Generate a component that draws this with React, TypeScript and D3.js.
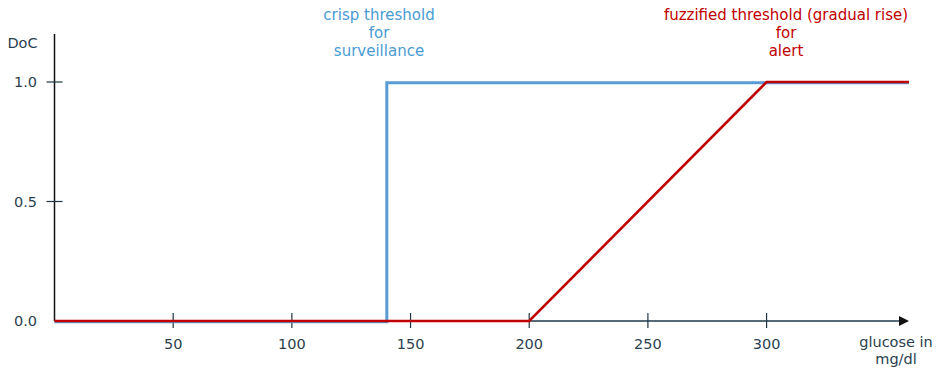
import React from "react";
import * as d3 from "d3";

const xTicks = [50, 100, 150, 200, 250, 300];
const yTicks = [0, 0.5, 1];
const yTickLabels = ["0.0", "0.5", "1.0"];
const crispX = [0, 140, 140, 360];
const crispY = [0, 0, 1, 1];
const fuzzyX = [0, 200, 300, 360];
const fuzzyY = [0, 0, 1, 1];
const crispLabel = ["crisp threshold", "for", "surveillance"];
const fuzzyLabel = ["fuzzified threshold (gradual rise)", "for", "alert"];
const xAxisLabel = ["glucose in", "mg/dl"];

const W = 941;
const H = 368;
const FONT = "'DejaVu Sans', Verdana, sans-serif";
const TEXT = "#2b3f4f";

export default function App() {
  const x = d3.scaleLinear().domain([0, 360]).range([54.5, 909]);
  const y = d3.scaleLinear().domain([0, 1]).range([321, 82]);
  const line = d3
    .line<[number, number]>()
    .x((d) => x(d[0]))
    .y((d) => y(d[1]));
  const crisp: [number, number][] = crispX.map((v, i) => [v, crispY[i]]);
  const fuzzy: [number, number][] = fuzzyX.map((v, i) => [v, fuzzyY[i]]);
  const x0 = x(0);
  const y0 = y(0);

  return (
    <svg
      width={W}
      height={H}
      style={{ position: "absolute", left: 0, top: 0, background: "#fff" }}
      fontFamily={FONT}
      fontSize={14.5}
    >
      {/* y axis */}
      <line x1={x0} x2={x0} y1={34} y2={y0} stroke="#111" strokeWidth={1.5} />
      {yTicks.map((t, i) => (
        <g key={t}>
          {t > 0 && (
            <line x1={x0 - 8} x2={x0 + 8} y1={y(t)} y2={y(t)} stroke="#1e3442" strokeWidth={1.2} />
          )}
          <text x={37} y={y(t)} dy="0.35em" textAnchor="end" fill={TEXT}>
            {yTickLabels[i]}
          </text>
        </g>
      ))}
      <text x={22.5} y={43} dy="0.35em" textAnchor="middle" fill={TEXT}>
        DoC
      </text>

      {/* x axis */}
      <line x1={x0} x2={x(360) - 8} y1={y0} y2={y0} stroke="#1e3a48" strokeWidth={1.5} />
      <path
        d={`M${x(360)},${y0} L${x(360) - 10},${y0 - 5} L${x(360) - 10},${y0 + 5} Z`}
        fill="#111"
      />
      {xTicks.map((t) => (
        <g key={t}>
          <line x1={x(t)} x2={x(t)} y1={y0 - 8} y2={y0 + 7} stroke="#1e3442" strokeWidth={1.2} />
          <text x={x(t)} y={344} dy="0.35em" textAnchor="middle" fill={TEXT}>
            {t}
          </text>
        </g>
      ))}
      {xAxisLabel.map((s, i) => (
        <text key={s} x={896} y={342 + i * 17} dy="0.35em" textAnchor="middle" fill={TEXT}>
          {s}
        </text>
      ))}

      {/* series */}
      <path d={line(crisp) || ""} fill="none" stroke="#5b9bd5" strokeWidth={3} transform="translate(0,0.8)" />
      <path d={line(fuzzy) || ""} fill="none" stroke="#c00000" strokeWidth={2.6} strokeLinejoin="miter" />

      {/* annotations */}
      {crispLabel.map((s, i) => (
        <text key={s} x={379} y={15 + i * 18} dy="0.35em" textAnchor="middle" fill="#4a9bd4" fontSize={15}>
          {s}
        </text>
      ))}
      {fuzzyLabel.map((s, i) => (
        <text key={s} x={786} y={15 + i * 18} dy="0.35em" textAnchor="middle" fill="#c00000" fontSize={15}>
          {s}
        </text>
      ))}
    </svg>
  );
}
